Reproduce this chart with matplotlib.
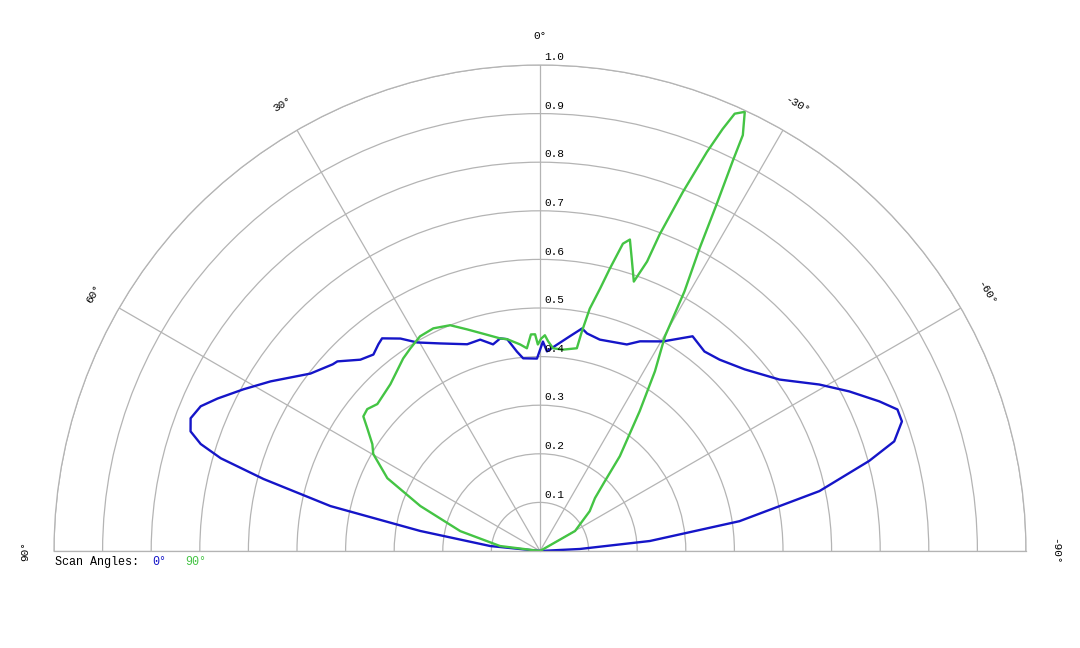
import matplotlib
matplotlib.use("Agg")
import matplotlib.pyplot as plt
import numpy as np

# Scan angle 0 deg (blue)
blue_theta = [-90, -87.1, -84.8, -81.5, -77.9, -74.7, -72.8, -70.3, -68.4, -66.2,
              -62.7, -59.2, -54.4, -48.4, -43.2, -39.5, -35.4, -30.4, -25.5, -22.8,
              -15.8, -12.2, -10.7, -7.9, -4.7, -2.0, -0.8, 0.9, 5.0, 6.6,
              8.8, 10.6, 12.8, 15.8, 19.4, 25.7, 30.5, 33.3, 36.6, 38.0,
              40.3, 43.2, 46.9, 48.0, 52.3, 57.8, 61.4, 64.7, 66.9, 69.2,
              71.1, 72.5, 73.8, 75.4, 77.9, 80.5, 84.3, 90]
blue_r = [0.0, 0.082, 0.227, 0.415, 0.588, 0.702, 0.763, 0.791, 0.791, 0.763,
          0.716, 0.669, 0.606, 0.563, 0.540, 0.532, 0.542, 0.500, 0.478, 0.461,
          0.452, 0.458, 0.466, 0.446, 0.426, 0.411, 0.431, 0.396, 0.398, 0.413,
          0.441, 0.445, 0.436, 0.452, 0.451, 0.474, 0.498, 0.523, 0.545, 0.540,
          0.530, 0.540, 0.571, 0.574, 0.597, 0.655, 0.695, 0.734, 0.759, 0.769,
          0.760, 0.732, 0.684, 0.588, 0.441, 0.250, 0.103, 0.0]

# Scan angle 90 deg (green)
green_theta = [-90, -60.3, -51.3, -46.1, -42.9, -40.1, -35.5, -32.6, -30.2, -29.1,
               -27.8, -27.0, -26.3, -26.0, -25.0, -24.0, -23.4, -22.7, -21.7, -20.7,
               -20.3, -19.2, -17.4, -16.1, -15.1, -13.9, -12.9, -11.6, -10.8, -10.3,
               -6.5, -3.7, -2.2, -1.3, -0.3, 0.6, 1.3, 2.4, 3.7, 5.5,
               8.8, 10.6, 14.2, 18.2, 21.7, 25.6, 29.2, 32.6, 35.4, 41.9,
               47.9, 50.6, 52.7, 54.6, 57.5, 59.8, 64.5, 69.4, 76.0, 82.9, 90]
green_r = [0.0, 0.083, 0.131, 0.157, 0.196, 0.255, 0.353, 0.439, 0.511, 0.611,
           0.704, 0.800, 0.895, 0.952, 0.997, 0.985, 0.946, 0.890, 0.795, 0.696,
           0.635, 0.587, 0.631, 0.667, 0.655, 0.599, 0.554, 0.509, 0.460, 0.424,
           0.417, 0.418, 0.432, 0.444, 0.437, 0.425, 0.446, 0.446, 0.418, 0.427,
           0.441, 0.445, 0.460, 0.480, 0.500, 0.508, 0.506, 0.495, 0.486, 0.461,
           0.451, 0.460, 0.457, 0.436, 0.409, 0.397, 0.348, 0.263, 0.169, 0.083, 0.0]

ring_values = [0.1, 0.2, 0.3, 0.4, 0.5, 0.6, 0.7, 0.8, 0.9, 1.0]
angle_ticks = [-90, -60, -30, 0, 30, 60, 90]

blue = "#1515c8"
green = "#44c444"
grid = "#b4b4b4"
mono = "Liberation Mono"

fig = plt.figure(figsize=(10.8, 6.48), dpi=100)
# square box so the half disc gets the full width; disc centre at (540, 551) px
ax = fig.add_axes([0.05, -146 / 648, 0.9, 972 / 648], projection="polar")
ax.set_thetamin(-90)
ax.set_thetamax(90)
ax.set_theta_zero_location("N")
ax.set_theta_direction(1)
ax.set_rlim(0, 1)

ax.set_rticks(ring_values)
ax.set_yticklabels([])
ax.set_xticks(np.deg2rad(angle_ticks))
ax.set_xticklabels([])
ax.tick_params(length=0)
ax.grid(True, color=grid, linewidth=0.9)
for s in ax.spines.values():
    s.set_color(grid)
    s.set_linewidth(0.9)

ax.plot(np.deg2rad(blue_theta), blue_r, color=blue, lw=1.7)
ax.plot(np.deg2rad(green_theta), green_r, color=green, lw=1.7)

# radial labels along the 0 deg spoke
for v in ring_values:
    ax.annotate(f"{v:.1f}", xy=(0, v), xytext=(3, 2), textcoords="offset points",
                ha="left", va="bottom", fontsize=8, family=mono)

# angle labels
for a in angle_ticks:
    ax.text(np.deg2rad(a), 1.06, f"{a}°", rotation=a, ha="center", va="center",
            fontsize=8, family=mono, rotation_mode="anchor")

fig.text(55 / 1080, 1 - 562 / 648, "Scan Angles:", fontsize=8.5, family=mono,
         va="center", ha="left")
fig.text(152 / 1080, 1 - 562 / 648, "0°", fontsize=8.5, family=mono,
         va="center", ha="left", color=blue)
fig.text(185 / 1080, 1 - 562 / 648, "90°", fontsize=8.5, family=mono,
         va="center", ha="left", color=green)

fig.savefig("out.png", dpi=100)
